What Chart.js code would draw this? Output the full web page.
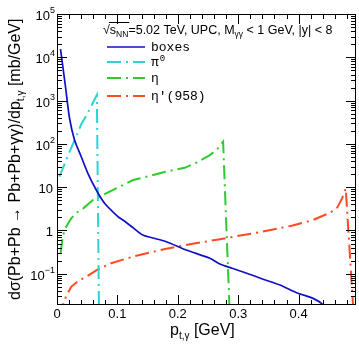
<!DOCTYPE html>
<html><head><meta charset="utf-8">
<script src="https://cdn.jsdelivr.net/npm/chart.js@4/dist/chart.umd.min.js"></script>
<style>html,body{margin:0;padding:0;background:#fff;overflow:hidden}#wrap{width:359px;height:344px}</style>
</head><body><div id="wrap"><canvas id="c" width="359" height="344"></canvas></div>
<script>
// ---- data ----
const boxesPt  = [0.0058,0.0100,0.0141,0.0207,0.029,0.0401,0.0511,0.065,0.0788,0.1008,0.109,0.125,0.142,0.161,0.181,0.214,0.253,0.2695,0.290,0.314,0.340,0.369,0.399,0.424,0.441,0.45];
const boxesVal = [15500,5600,2060,396,123,50.6,20.9,8.6,4.25,2.09,1.75,1.19,0.787,0.66,0.55,0.355,0.228,0.168,0.134,0.103,0.076,0.055,0.0355,0.027,0.019,0.012];
const pi0Pt  = [0.004,0.012,0.020,0.030,0.040,0.050,0.058,0.066,0.0698];
const pi0Val = [17.5,32.6,62,130,280,490,815,1350,0.005];
const etaPt  = [0.006,0.008,0.0096,0.014,0.0235,0.033,0.043,0.059,0.087,0.126,0.155,0.181,0.2115,0.231,0.253,0.264,0.275,0.287];
const etaVal = [0.3,0.5,0.75,1.15,1.9,2.6,3.2,5.0,7.9,14.6,18.5,23,28,37,55,72,112,0.005];
const etapPt  = [0.008,0.0096,0.015,0.0235,0.035,0.048,0.065,0.087,0.126,0.181,0.22,0.27,0.34,0.39,0.424,0.45,0.463,0.472,0.478,0.4927];
const etapVal = [0.01,0.019,0.030,0.05,0.068,0.085,0.12,0.17,0.25,0.38,0.48,0.63,0.94,1.3,1.75,2.5,3.2,5.5,9.3,0.005];
const seriesNames = ['boxes','π','η','η′(958)'];
const seriesSup   = ['','0','',''];
const xTickLabels = ['0','0.1','0.2','0.3','0.4'];
const xTickValues = [0,0.1,0.2,0.3,0.4];
const yTickValues = [1e5,1e4,1e3,1e2,10,1,0.1];
const yTickBase   = ['10','10','10','10','10','1','10'];
const yTickExp    = ['5','4','3','2','','','−1'];
const headerParts = [['√',''],['s','NN'],['=5.02 TeV, UPC, M','γγ'],[' < 1 GeV, |y| < 8','']];
const xMin = 0, xMax = 0.495, yMin = 0.019, yMax = 1e5;

const colors = ['#1010c4','#2ad4d4','#2ccc2c','#ff4a22'];
const dashDot = [14,5,2,5];
const toXY = (xs, ys) => xs.map((x,i)=>({x:x,y:ys[i]}));

const FONT = '"Liberation Sans", Arial, sans-serif';

const framePlugin = {
  id:'frame',
  afterDraw(chart){
    const ctx = chart.ctx, a = chart.chartArea, xs = chart.scales.x, ys = chart.scales.y;
    ctx.save();
    ctx.strokeStyle = '#000'; ctx.lineWidth = 1;
    ctx.strokeRect(a.left+0.5, a.top+0.5, a.right-a.left-1, a.bottom-a.top-1);
    ctx.beginPath();
    for (let i=0;i<=25;i++){
      const v = i*0.02; if (v > xMax) break;
      const p = Math.round(xs.getPixelForValue(v))+0.5;
      const L = (i%5===0)?10:5;
      ctx.moveTo(p,a.bottom); ctx.lineTo(p,a.bottom-L);
      ctx.moveTo(p,a.top); ctx.lineTo(p,a.top+L);
    }
    for (let d=-2; d<=5; d++){
      for (let m=1; m<=9; m++){
        const v = m*Math.pow(10,d);
        if (v < yMin || v > yMax*1.0001) continue;
        const p = Math.round(ys.getPixelForValue(v))+0.5;
        const L = (m===1)?10:5;
        ctx.moveTo(a.left,p); ctx.lineTo(a.left+L,p);
        ctx.moveTo(a.right,p); ctx.lineTo(a.right-L,p);
      }
    }
    ctx.stroke();
    ctx.fillStyle = '#000';
    ctx.font = '13px '+FONT; ctx.textAlign='center'; ctx.textBaseline='alphabetic';
    xTickValues.forEach((v,i)=>{ ctx.fillText(xTickLabels[i], xs.getPixelForValue(v), 318); });
    yTickValues.forEach((v,i)=>{
      const p = ys.getPixelForValue(v);
      const right = 55;
      ctx.font = '9px '+FONT;
      const ew = yTickExp[i] ? ctx.measureText(yTickExp[i]).width : 0;
      ctx.textAlign = 'right';
      if (yTickExp[i]) ctx.fillText(yTickExp[i], right, p-1);
      ctx.font = '13px '+FONT;
      ctx.fillText(yTickBase[i], yTickExp[i] ? right-ew : right-2, p+6);
    });
    ctx.textAlign='left';
    ctx.font = '16px '+FONT;
    let x0 = 170;
    ctx.fillText('p', x0, 335); x0 += ctx.measureText('p').width;
    ctx.font = '10px '+FONT; ctx.fillText('t,γ', x0, 339); x0 += ctx.measureText('t,γ').width;
    ctx.font = '16px '+FONT; ctx.fillText(' [GeV]', x0, 335);
    ctx.save();
    ctx.translate(20, 300); ctx.rotate(-Math.PI/2);
    let t = 0;
    ctx.font = '16px '+FONT; const s1 = 'dσ(Pb+Pb → Pb+Pb+γγ)/dp';
    ctx.fillText(s1, t, 0); t += ctx.measureText(s1).width;
    ctx.font = '10px '+FONT; ctx.fillText('t,γ', t, 4); t += ctx.measureText('t,γ').width;
    ctx.font = '16px '+FONT; ctx.fillText(' [mb/GeV]', t, 0);
    ctx.restore();
    let hx = 103; const hb = 34;
    headerParts.forEach((pp,i)=>{
      ctx.font = '12.5px '+FONT;
      const startX = hx;
      ctx.fillText(pp[0], hx, hb); hx += ctx.measureText(pp[0]).width;
      if (pp[1]) { ctx.font='8.5px '+FONT; ctx.fillText(pp[1], hx, hb+3); hx += ctx.measureText(pp[1]).width; }
      if (i===1){ ctx.beginPath(); ctx.moveTo(startX-1, 22.5); ctx.lineTo(hx+1, 22.5); ctx.stroke(); }
    });
    const ly = [47,62,78,96];
    chart.data.datasets.forEach((ds,i)=>{
      ctx.beginPath(); ctx.strokeStyle = ds.borderColor; ctx.lineWidth = ds.borderWidth;
      ctx.setLineDash(ds.borderDash||[]);
      ctx.moveTo(107, ly[i]); ctx.lineTo(145, ly[i]); ctx.stroke();
      ctx.setLineDash([]);
      ctx.fillStyle = '#000';
      ctx.font = '13px "Liberation Mono", "Courier New", monospace';
      ctx.fillText(seriesNames[i], 151, ly[i]+4);
      if (seriesSup[i]) { const w = ctx.measureText(seriesNames[i]).width; ctx.font='9px "Liberation Mono", monospace'; ctx.fillText(seriesSup[i], 151+w+1, ly[i]-1); }
    });
    ctx.restore();
  }
};

new Chart(document.getElementById('c'), {
  type:'line',
  data:{ datasets:[
    {label:'boxes', data:toXY(boxesPt,boxesVal), borderColor:colors[0], borderWidth:1.7, pointRadius:0, tension:0.25},
    {label:'pi0', data:toXY(pi0Pt,pi0Val), borderColor:colors[1], borderWidth:2, borderDash:dashDot, pointRadius:0, tension:0},
    {label:'eta', data:toXY(etaPt,etaVal), borderColor:colors[2], borderWidth:2, borderDash:dashDot, pointRadius:0, tension:0},
    {label:'etap', data:toXY(etapPt,etapVal), borderColor:colors[3], borderWidth:2, borderDash:dashDot, pointRadius:0, tension:0}
  ]},
  options:{
    responsive:false, animation:false, devicePixelRatio:1,
    layout:{padding:{left:57,right:3,top:14,bottom:39}},
    plugins:{legend:{display:false}, tooltip:{enabled:false}},
    scales:{
      x:{type:'linear', min:xMin, max:xMax, display:false},
      y:{type:'logarithmic', min:yMin, max:yMax, display:false}
    }
  },
  plugins:[framePlugin]
});
</script></body></html>
